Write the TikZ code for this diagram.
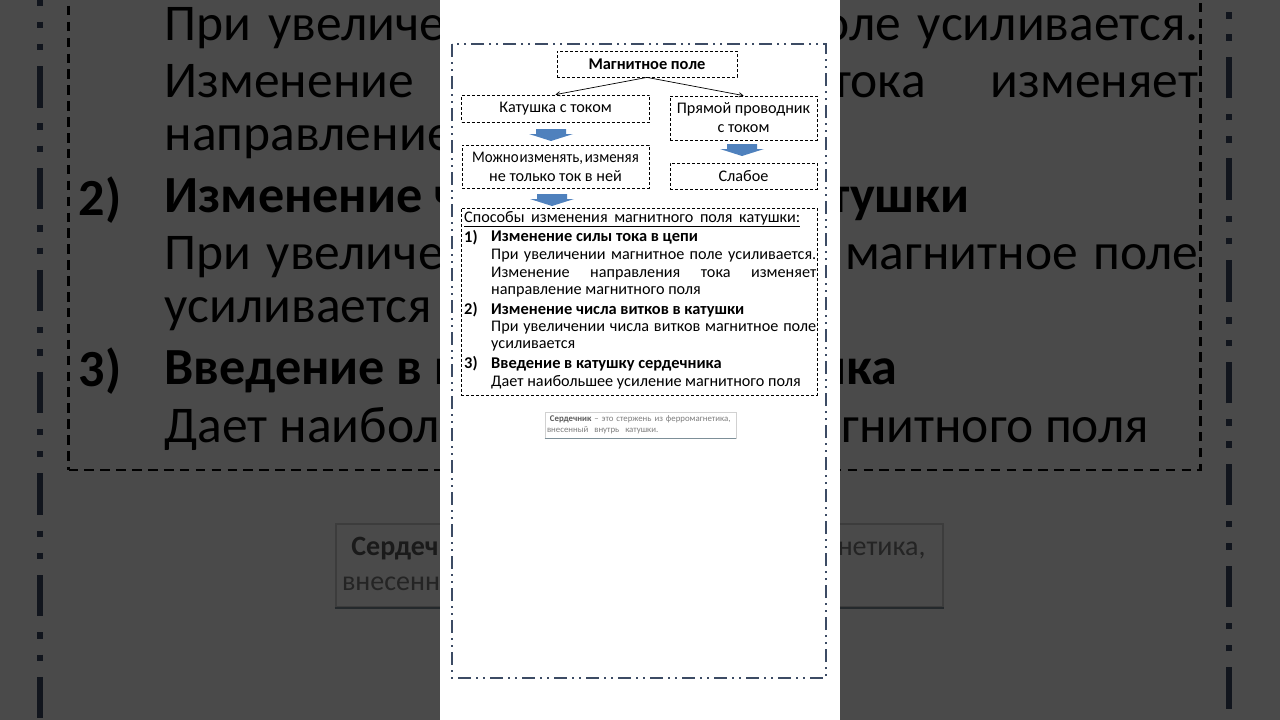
\documentclass[tikz,border=0pt]{standalone}
\usepackage{fontspec}
\setmainfont{Carlito}
\usetikzlibrary{arrows}
\definecolor{framecol}{RGB}{60,75,100}
\definecolor{arrowblue}{RGB}{79,129,189}
\definecolor{notedark}{RGB}{90,90,90}
\definecolor{notegray}{RGB}{125,125,125}

\tikzset{
  dbox/.style={draw, line width=0.8pt, dash pattern=on 3pt off 2pt, inner sep=1pt},
  frame/.style={draw=framecol, line width=2pt, dash pattern=on 13pt off 5pt on 2pt off 5pt on 2pt off 5pt},
  thinarr/.style={->, >=angle 60, line width=0.7pt},
  txt/.style={anchor=west, inner sep=0pt},
  bold/.style={font=\fontsize{16.4}{19}\selectfont\bfseries},
  notebox/.style={draw=black!18, line width=0.6pt, inner sep=2pt, align=left},
  downarr/.pic={\fill[arrowblue] (-15,0) -- (15,0) -- (15,5) -- (22,5) -- (0,12) -- (-22,5) -- (-15,5) -- cycle;}
}

% the whole sheet, drawn twice
\newcommand{\sheet}{%
  \draw[frame] (452,44) rectangle (826,678);
  \node[dbox, bold, minimum width=180, minimum height=26] (mag) at (647,64) {Магнитное поле};
  \node[dbox, minimum width=188, minimum height=27] (kat) at (555.5,108.5) {Катушка с током};
  \node[dbox, minimum width=147, minimum height=44, align=center] (pryam) at (743.5,118) {Прямой проводник\\с током};
  \node[dbox, minimum width=187, minimum height=43, align=center] (mozh) at (555.5,166.5) {\scalebox{0.92}[1]{Можно\hspace{1pt}изменять,\hspace{2pt}изменяя}\\не только ток в ней};
  \node[dbox, minimum width=147, minimum height=26] (slab) at (743.5,176) {Слабое};
  \node[dbox, minimum width=356, minimum height=187] (sposob) at (639,301.5) {};
  \draw[thinarr] (mag.south) -- (kat.north);
  \draw[thinarr] (mag.south) -- (pryam.north);
  \pic at (551,129) {downarr};
  \pic at (742,144) {downarr};
  \pic at (552,194) {downarr};
  % list inside the big box
  \node[txt] (head) at (464,219) {\underline{\makebox[336pt][s]{Способы изменения магнитного поля катушки:}}};
  \node[txt, bold] (n1) at (464,238) {1)};
  \node[txt, bold] (i1) at (491,238) {Изменение силы тока в цепи};
  \node[txt, text width=325] (a1) at (491,256) {При\hfill увеличении\hfill магнитное\hfill поле\hfill усиливается.};
  \node[txt, text width=325] (a2) at (491,274) {Изменение\hfill направления\hfill тока\hfill изменяет};
  \node[txt] (a3) at (491,292) {направление магнитного поля};
  \node[txt, bold] (n2) at (464,310) {2)};
  \node[txt, bold] (i2) at (491,310) {Изменение числа витков в катушки};
  \node[txt, text width=325] (b1) at (491,328) {При\hfill увеличении\hfill числа\hfill витков\hfill магнитное\hfill поле};
  \node[txt] (b2) at (491,346) {усиливается};
  \node[txt, bold] (n3) at (464,364) {3)};
  \node[txt, bold] (i3) at (491,364) {Введение в катушку сердечника};
  \node[txt] (c1) at (491,382) {Дает наибольшее усиление магнитного поля};
  % note under the scheme
  \node[notebox, text width=187, minimum height=26, font=\fontsize{8.8}{11}\selectfont] (note) at (640.5,425)
    {\textcolor{notedark}{\bfseries\ Сердечник} \textcolor{notegray}{– это стержень из ферромагнетика,\\внесенный\ \ внутрь\ \ катушки.}};
  \draw[black!35!cyan!30!gray, line width=0.8pt] (note.south west) -- (note.south east);
}

\begin{document}
\begin{tikzpicture}[x=1pt, y=-1pt, every node/.style={font=\fontsize{16.2}{19}\selectfont}]
  \useasboundingbox (0,0) rectangle (1280,720);
  \fill[white] (0,0) rectangle (1280,720);
  % blown-up copy at the sides
  \begin{scope}
    \clip (0,0) rectangle (440,720) (840,0) rectangle (1280,720);
    \begin{scope}[transform canvas={shift={(-1397.4,-786)}, scale=3.18}]
      \sheet
    \end{scope}
  \end{scope}
  \fill[black, opacity=0.71] (0,0) rectangle (1280,720);
  \fill[white] (440,0) rectangle (840,720);
  \sheet
\end{tikzpicture}
\end{document}
